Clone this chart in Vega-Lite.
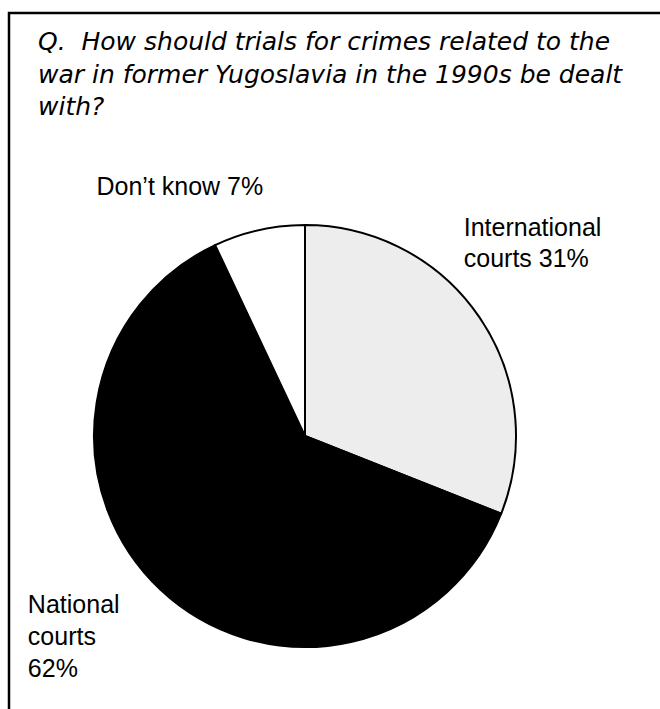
{
  "$schema": "https://vega.github.io/schema/vega-lite/v6.json",
  "width": 700,
  "height": 750,
  "autosize": {"type": "none"},
  "padding": {"left": 9, "top": 13, "right": 0, "bottom": 0},
  "background": "white",
  "view": {"stroke": "black", "strokeWidth": 2.5, "fill": "white"},
  "config": {
    "font": "Liberation Sans"
  },
  "title": {
    "text": ["Q.\u00a0 How should trials for crimes related to the", "war in former Yugoslavia in the 1990s be dealt", "with?"],
    "anchor": "start",
    "frame": "group",
    "orient": "top",
    "baseline": "alphabetic",
    "offset": 0,
    "dx": 29,
    "dy": 127,
    "lineHeight": 32.5,
    "font": "DejaVu Sans",
    "fontStyle": "italic",
    "fontWeight": "normal",
    "fontSize": 25,
    "color": "black"
  },
  "data": {
    "values": [
      {"category": "International courts", "value": 31, "order": 1, "label": "International\ncourts 31%"},
      {"category": "National courts", "value": 62, "order": 2, "label": "National\ncourts\n62%"},
      {"category": "Don't know", "value": 7, "order": 3, "label": "Don’t know 7%"}
    ]
  },
  "encoding": {
    "theta": {"field": "value", "type": "quantitative", "stack": true},
    "order": {"field": "order", "type": "quantitative"},
    "color": {
      "field": "category",
      "type": "nominal",
      "scale": {"domain": ["International courts", "National courts", "Don't know"], "range": ["#ededed", "#000000", "#ffffff"]},
      "legend": null
    }
  },
  "layer": [
    {
      "mark": {"type": "arc", "x": 296, "y": 423, "outerRadius": 211, "stroke": "black", "strokeWidth": 2}
    },
    {
      "mark": {"type": "text", "x": 296, "y": 423, "radius": 250, "align": "left", "baseline": "alphabetic", "dx": -48, "dy": -59, "fontSize": 25, "lineHeight": 31, "lineBreak": "\n"},
      "encoding": {"text": {"condition": {"test": "datum.order == 1", "field": "label"}, "value": ""}, "color": {"value": "black"}}
    },
    {
      "mark": {"type": "text", "x": 296, "y": 423, "radius": 250, "align": "left", "baseline": "alphabetic", "dx": -106, "dy": -5, "fontSize": 25, "lineHeight": 32, "lineBreak": "\n"},
      "encoding": {"text": {"condition": {"test": "datum.order == 2", "field": "label"}, "value": ""}, "color": {"value": "black"}}
    },
    {
      "mark": {"type": "text", "x": 296, "y": 423, "radius": 250, "align": "left", "baseline": "alphabetic", "dx": -154, "dy": 3, "fontSize": 25, "lineBreak": "\n"},
      "encoding": {"text": {"condition": {"test": "datum.order == 3", "field": "label"}, "value": ""}, "color": {"value": "black"}}
    }
  ]
}
